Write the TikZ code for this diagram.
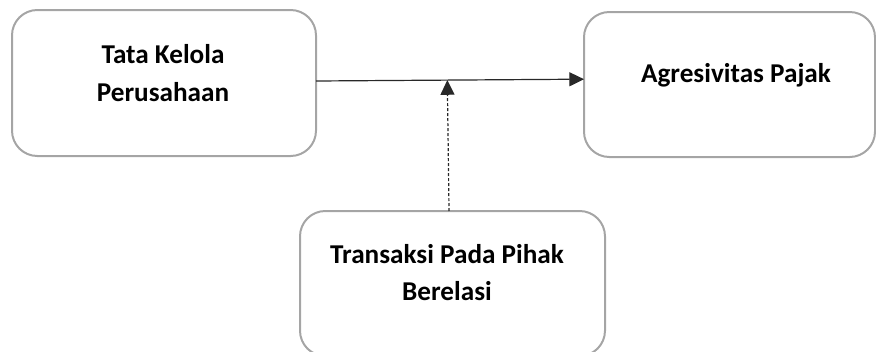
\documentclass[tikz,border=0pt]{standalone}
\usepackage{fontspec}
\setmainfont{Carlito}
\usetikzlibrary{arrows.meta}
\definecolor{boxgray}{RGB}{165,165,165}
\definecolor{linedark}{RGB}{40,40,40}
\begin{document}
\begin{tikzpicture}[x=0.75pt,y=-0.75pt,
  box/.style={draw=boxgray, line width=1.5pt, rounded corners=19pt, inner sep=0pt, outer sep=0pt},
  lbl/.style={font=\bfseries\fontsize{20.4}{28.2}\selectfont, align=center, inner sep=0pt},
  conn/.style={draw=linedark, line width=0.9pt},
  tip/.style={-{Triangle[length=11pt,width=10.5pt]}}]
\useasboundingbox (0,0) rectangle (876,351);
\clip (0,0) rectangle (876,351);
\node[box, minimum width=228pt, minimum height=109.5pt] (left) at (164,83) {};
\node[box, minimum width=218.25pt, minimum height=108.75pt] (right) at (729.5,84.5) {};
\node[box, minimum width=228.75pt, minimum height=108.75pt] (bottom) at (452.5,283.5) {};
\node[lbl] (tl) at (163,73) {Tata Kelola\\Perusahaan};
\node[lbl] (tr) at (736,75) {Agresivitas Pajak};
\node[lbl] (tb) at (447,272.5) {Transaksi Pada Pihak\\Berelasi};
\path ([yshift=1.5pt]left.east) -- ([yshift=4pt]right.west) coordinate[pos=0.49] (m);
\draw[conn, tip] ([yshift=1.5pt]left.east) -- ([yshift=4pt]right.west);
\draw[conn, tip, dash pattern=on 2.25pt off 1.5pt] ([xshift=-2.6pt]bottom.north) -- (m);
\end{tikzpicture}
\end{document}
